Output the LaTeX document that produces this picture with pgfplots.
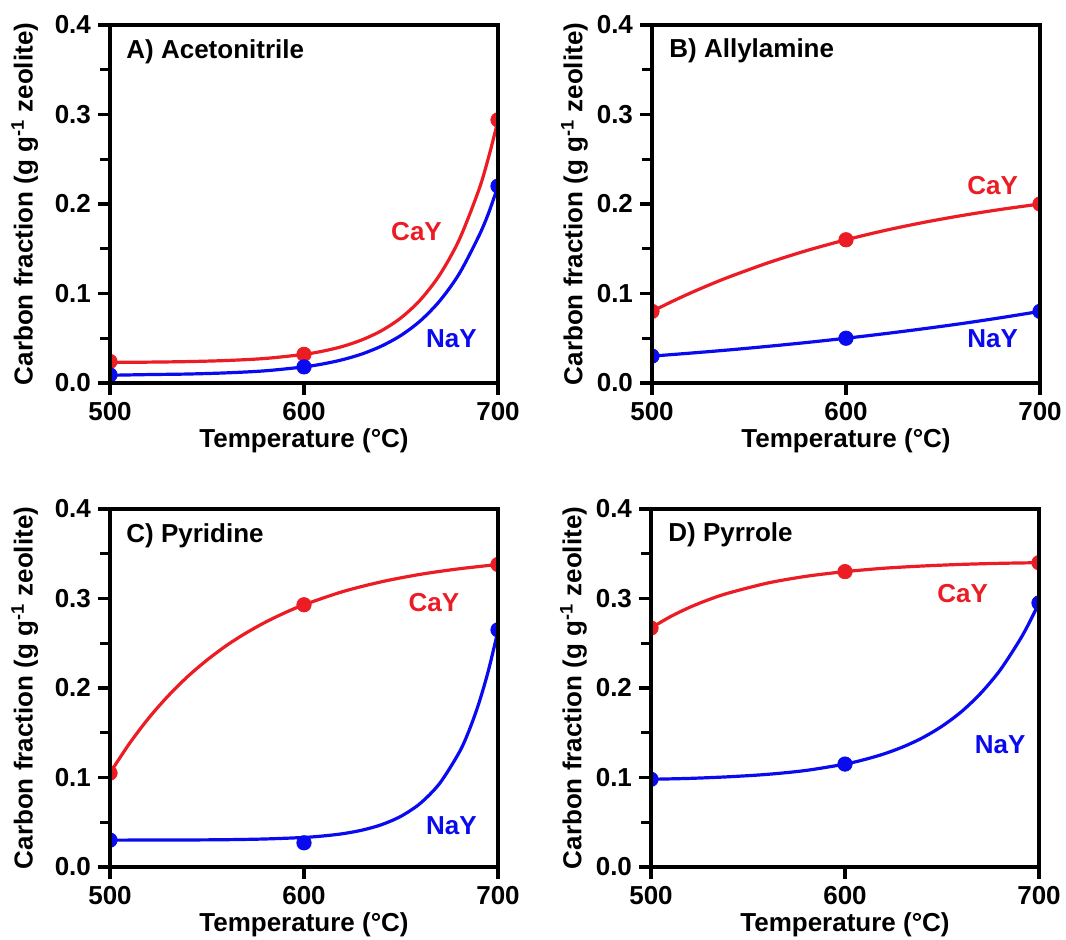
\documentclass[border=0pt]{standalone}
\usepackage{fontspec}
\setmainfont{Liberation Sans}
\usepackage{pgfplots}
\pgfplotsset{compat=1.18}

\definecolor{cay}{RGB}{236,28,36}
\definecolor{nay}{RGB}{10,10,240}

\newcommand{\labfont}{\bfseries\fontsize{13}{15.6}\selectfont}

\pgfplotsset{
  panel/.style={
    scale only axis, width=194pt, height=179pt,
    xmin=500, xmax=700, ymin=0, ymax=0.4,
    xtick={500,600,700}, ytick={0,0.1,0.2,0.3,0.4}, minor y tick num=1,
    tick align=outside, tick pos=left,
    major tick length=6pt, minor tick length=5pt,
    axis line style={line width=1.7pt},
    tick style={black, line width=1.7pt},
    font=\labfont,
    tick label style={font=\labfont},
    /pgf/number format/assume math mode=true,
    yticklabel style={/pgf/number format/.cd, fixed, fixed zerofill, precision=1},
    xticklabel style={/pgf/number format/set thousands separator={}},
    xlabel={Temperature (°C)},
    ylabel={Carbon fraction (g g\textsuperscript{-1} zeolite)},
    xlabel style={at={(axis description cs:0.5,-0.162)}, anchor=center},
    clip marker paths=true,
    axis on top,
  },
  fitline/.style={line width=1.6pt, smooth, tension=0.5, no marks},
  pts/.style={only marks, mark=*, mark size=3.6pt},
}

\begin{document}
\begin{tikzpicture}
\path[use as bounding box] (0,0) rectangle (533pt,470pt);

% A) Acetonitrile
\begin{axis}[panel, at={(55pt,278.5pt)}, anchor=south west,
  ylabel style={at={(axis description cs:-0.22,0.5)}, anchor=center}]
  \addplot[cay, fitline] coordinates {(500,0.023)(520,0.0233)(540,0.0239)(560,0.0251)(580,0.0274)(600,0.032)(610,0.0357)(620,0.0409)(630,0.0483)(640,0.0585)(650,0.0728)(660,0.0929)(670,0.121)(680,0.160)(690,0.215)(695,0.251)(700,0.293)};
  \addplot[nay, fitline] coordinates {(500,0.0086)(520,0.0094)(540,0.0100)(560,0.0113)(580,0.0136)(600,0.018)(610,0.0214)(620,0.0261)(630,0.0325)(640,0.0413)(650,0.0532)(660,0.0695)(670,0.0918)(680,0.122)(690,0.1636)(695,0.189)(700,0.220)};
  \addplot[cay, pts] coordinates {(500,0.024)(600,0.032)(700,0.294)};
  \addplot[nay, pts] coordinates {(500,0.009)(600,0.018)(700,0.220)};
  \node[cay] at (axis cs:658,0.169) {CaY};
  \node[nay] at (axis cs:676,0.049) {NaY};
  \node[anchor=base west, inner sep=0pt, xshift=8pt, yshift=-17pt] at (rel axis cs:0,1) {A) Acetonitrile};
\end{axis}

% B) Allylamine
\begin{axis}[panel, at={(326pt,278.5pt)}, anchor=south west,
  ylabel style={at={(axis description cs:-0.2,0.5)}, anchor=center}]
  \addplot[cay, fitline] coordinates {(500,0.080)(510,0.0907)(520,0.1007)(530,0.110)(540,0.1187)(560,0.1344)(580,0.1481)(600,0.160)(620,0.1704)(640,0.1794)(660,0.1872)(680,0.194)(700,0.200)};
  \addplot[nay, fitline] coordinates {(500,0.030)(520,0.0334)(540,0.0370)(560,0.0410)(580,0.0453)(600,0.050)(620,0.0551)(640,0.0606)(660,0.0665)(680,0.0730)(700,0.080)};
  \addplot[cay, pts] coordinates {(500,0.080)(600,0.160)(700,0.200)};
  \addplot[nay, pts] coordinates {(500,0.030)(600,0.050)(700,0.080)};
  \node[cay] at (axis cs:675.6,0.221) {CaY};
  \node[nay] at (axis cs:675.6,0.049) {NaY};
  \node[anchor=base west, inner sep=0pt, xshift=8.5pt, yshift=-16.5pt] at (rel axis cs:0,1) {B) Allylamine};
\end{axis}

% C) Pyridine
\begin{axis}[panel, at={(55pt,36.5pt)}, anchor=south west,
  ylabel style={at={(axis description cs:-0.22,0.5)}, anchor=center}]
  \addplot[cay, fitline] coordinates {(500,0.105)(510,0.1379)(520,0.1665)(530,0.1912)(540,0.2127)(550,0.2312)(560,0.2474)(570,0.2613)(580,0.2734)(590,0.2839)(600,0.293)(620,0.3077)(640,0.3187)(660,0.327)(680,0.3332)(700,0.338)};
  \addplot[nay, fitline] coordinates {(500,0.030)(520,0.0301)(540,0.0302)(560,0.0305)(580,0.0313)(600,0.033)(610,0.0347)(620,0.0372)(630,0.0412)(640,0.0473)(650,0.0567)(660,0.0712)(670,0.0936)(680,0.128)(685,0.152)(690,0.182)(695,0.219)(700,0.264)};
  \addplot[cay, pts] coordinates {(500,0.105)(600,0.293)(700,0.338)};
  \addplot[nay, pts] coordinates {(500,0.030)(600,0.027)(700,0.265)};
  \node[cay] at (axis cs:667,0.296) {CaY};
  \node[nay] at (axis cs:676,0.046) {NaY};
  \node[anchor=base west, inner sep=0pt, xshift=8pt, yshift=-17pt] at (rel axis cs:0,1) {C) Pyridine};
\end{axis}

% D) Pyrrole
\begin{axis}[panel, at={(325.5pt,36.5pt)}, anchor=south west,
  ylabel style={at={(axis description cs:-0.2,0.5)}, anchor=center}]
  \addplot[cay, fitline] coordinates {(500,0.267)(510,0.2797)(520,0.2902)(530,0.2989)(540,0.3061)(560,0.3172)(580,0.3248)(600,0.330)(620,0.3338)(640,0.3363)(660,0.3381)(680,0.3393)(700,0.340)};
  \addplot[nay, fitline] coordinates {(500,0.098)(520,0.0990)(540,0.1008)(560,0.1035)(580,0.1079)(600,0.115)(610,0.1200)(620,0.1263)(630,0.1343)(640,0.1444)(650,0.1573)(660,0.1735)(670,0.1942)(680,0.2201)(690,0.2533)(695,0.273)(700,0.295)};
  \addplot[cay, pts] coordinates {(500,0.267)(600,0.330)(700,0.340)};
  \addplot[nay, pts] coordinates {(500,0.098)(600,0.115)(700,0.295)};
  \node[cay] at (axis cs:660.7,0.305) {CaY};
  \node[nay] at (axis cs:680,0.137) {NaY};
  \node[anchor=base west, inner sep=0pt, xshift=8.5pt, yshift=-16.5pt] at (rel axis cs:0,1) {D) Pyrrole};
\end{axis}
\end{tikzpicture}
\end{document}
